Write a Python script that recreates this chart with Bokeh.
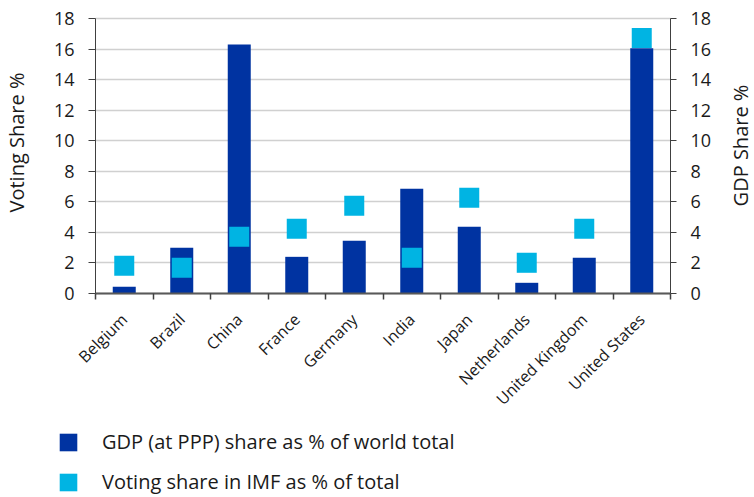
import math
from bokeh.plotting import figure
from bokeh.models import (LinearAxis, Range1d, FixedTicker, Legend, LegendItem,
                          Label)
from bokeh.embed import file_html
from bokeh.resources import INLINE

categories = ["Belgium", "Brazil", "China", "France", "Germany", "India",
              "Japan", "Netherlands", "United Kingdom", "United States"]
gdp_share = [0.45, 3.0, 16.3, 2.4, 3.45, 6.85, 4.37, 0.7, 2.34, 16.06]
voting_share = [1.81, 1.68, 3.71, 4.24, 5.74, 2.34, 6.26, 2.01, 4.24, 16.73]
y_ticks = [0, 2, 4, 6, 8, 10, 12, 14, 16, 18]
legend_labels = ["GDP (at PPP) share as % of world total",
                 "Voting share in IMF as % of total"]
left_title = "Voting Share %"
right_title = "GDP Share %"

FONT = "Open Sans"
BAR = "#0033a1"
SQ = "#00b4e3"
TXT = "#1a1a1a"

# canvas and chart-area geometry in pixels
W, H = 754, 497
AL, AR, AT, AB = 95, 670, 18, 293
N = len(categories)
YMAX = 18
xpx = (AR - AL) / N
ypx = (AB - AT) / YMAX

xs = [i + 0.5 for i in range(N)]
bounds = list(range(N + 1))

p = figure(width=W, height=H, output_backend="svg", toolbar_location=None,
           x_range=Range1d(-AL / xpx, N + (W - AR) / xpx),
           y_range=Range1d(-(H - AB) / ypx, YMAX + AT / ypx),
           min_border=0, min_border_left=0, min_border_right=0,
           min_border_top=0, min_border_bottom=0)
p.outline_line_color = None
p.extra_y_ranges = {"gdp": Range1d(-(H - AB) / ypx, YMAX + AT / ypx)}

p.xgrid.visible = False
try:
    p.ygrid.ticker = FixedTicker(ticks=y_ticks)
    p.ygrid.cross_bounds = (0, N)
    p.ygrid.grid_line_color = "#d0d0d0"
    p.ygrid.grid_line_width = 1.5
except AttributeError:
    p.ygrid.visible = False
    p.segment(x0=0, x1=N, y0=y_ticks, y1=y_ticks, line_color="#d0d0d0",
              line_width=1.5)

bars = p.vbar(x=xs, top=gdp_share, width=0.4, fill_color=BAR, line_color=None,
              y_range_name="gdp")
squares = p.rect(x=xs, y=voting_share, width=20, height=20, width_units="screen",
                 height_units="screen", fill_color=SQ, line_color=None)

xa = p.xaxis[0]
xa.fixed_location = 0
xa.bounds = (0, N)
xa.ticker = FixedTicker(ticks=xs, minor_ticks=bounds)
xa.major_label_overrides = {x: c for x, c in zip(xs, categories)}
xa.major_tick_line_color = None
xa.major_tick_out = 6
xa.major_tick_in = 0
xa.minor_tick_out = 6
xa.minor_tick_in = 0
xa.minor_tick_line_color = "#404040"
xa.minor_tick_line_width = 1.5
xa.axis_line_color = "#595959"
xa.axis_line_width = 2
xa.major_label_orientation = math.pi / 4
xa.major_label_standoff = 17
xa.major_label_text_font = FONT
xa.major_label_text_font_size = "16px"
xa.major_label_text_color = TXT

ya = p.yaxis[0]
ya.fixed_location = 0
ya.bounds = (0, YMAX)
ya.ticker = FixedTicker(ticks=y_ticks)
ya.minor_tick_line_color = None
ya.major_tick_out = 7
ya.major_tick_in = 0
ya.major_tick_line_color = "#404040"
ya.axis_line_color = "#404040"
ya.major_label_standoff = 14
ya.major_label_text_font = FONT
ya.major_label_text_font_size = "18px"
ya.major_label_text_color = TXT

ra = LinearAxis(y_range_name="gdp", ticker=FixedTicker(ticks=y_ticks),
                fixed_location=N, bounds=(0, YMAX))
ra.minor_tick_line_color = None
ra.major_tick_out = 6
ra.major_tick_in = 0
ra.major_tick_line_color = "#404040"
ra.axis_line_color = "#404040"
ra.major_label_standoff = 14
ra.major_label_text_font = FONT
ra.major_label_text_font_size = "18px"
ra.major_label_text_color = TXT
p.add_layout(ra, "right")

for text, sx, sy in [(left_title, 16, H - 142), (right_title, 740, H - 145)]:
    p.add_layout(Label(x=sx, y=sy, x_units="screen", y_units="screen",
                       text=text, angle=math.pi / 2, text_align="center",
                       text_baseline="middle", text_font=FONT,
                       text_font_size="20px", text_color=TXT))

legend = Legend(items=[
    LegendItem(label=legend_labels[0], renderers=[bars]),
    LegendItem(label=legend_labels[1], renderers=[squares]),
], location=(57, 2), glyph_width=22, glyph_height=22, label_standoff=23,
    spacing=13, padding=0, margin=0, border_line_color=None,
    background_fill_alpha=0, label_text_font=FONT, label_text_font_size="20px",
    label_text_color=TXT)
p.add_layout(legend, "center")

open("out.html", "w").write(file_html(p, INLINE))
